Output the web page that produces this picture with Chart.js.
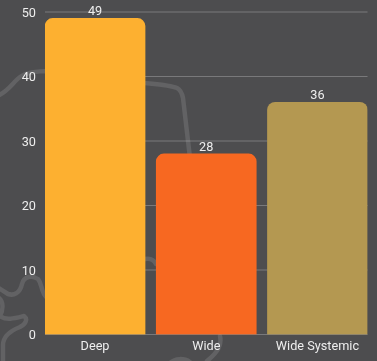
<!DOCTYPE html>
<html>
<head>
<meta charset="utf-8">
<title>Deep / Wide</title>
<script src="https://cdn.jsdelivr.net/npm/chart.js@4"></script>
<style>
    html, body { margin: 0; padding: 0; background: #4d4d4f; overflow: hidden; }
    #wrap { position: relative; width: 377px; height: 361px; }
    #wrap svg, #wrap canvas { position: absolute; left: 0; top: 0; }
</style>
</head>
<body>
<div id="wrap">
    <!-- faint outline running behind the plot -->
    <svg width="377" height="361" fill="none" stroke="#626264" stroke-width="4.5" stroke-linecap="round" stroke-linejoin="round">
        <path d="M-3 96 C8 92 13 82 20 77 C27 72 38 71 50 71 L145 83 C155 84 170 85 177 88 C181 90 182 93 183 98 L190 158"/>
        <path d="M47 298 C40 291 43 285 38 279 C32 275 24 276 22 284 C20 293 14 296 8 294 L-3 287"/>
        <path d="M-1 298 C4 302 3 310 0 316 C6 321 16 318 24 316 C28 319 26 324 20 327 C10 331 3 336 3 345 L3 363"/>
        <path d="M145 259 C150 258 154 260 156 264"/>
        <path d="M220 336 C222 345 218 352 207 361"/>
        <path d="M170 363 C175 358 184 358 190 362"/>
    </svg>
    <canvas id="chart" width="377" height="361"></canvas>
</div>
<script>
var categories = ['Deep', 'Wide', 'Wide Systemic'];
var series_values = [49, 28, 36];
var bar_colors = ['#fdb030', '#f76821', '#b49851'];
var y_ticks = [0, 10, 20, 30, 40, 50];

var text_color = '#eeeeee';
var text_font = { family: 'Roboto', size: 12.7 };

// horizontal rules, left unsnapped so they fall on half pixels where the scale puts them
var value_rules = {
    id: 'value_rules',
    beforeDatasetsDraw: function (chart) {
        var ctx = chart.ctx;
        var area = chart.chartArea;
        ctx.save();
        ctx.strokeStyle = 'rgba(255, 255, 255, 0.25)';
        ctx.lineWidth = 1;
        y_ticks.forEach(function (v) {
            var y = chart.scales.y.getPixelForValue(v);
            ctx.beginPath();
            ctx.moveTo(area.left, y);
            ctx.lineTo(area.right, y);
            ctx.stroke();
        });
        ctx.restore();
    }
};

// value above each bar
var bar_value_labels = {
    id: 'bar_value_labels',
    afterDatasetsDraw: function (chart) {
        var ctx = chart.ctx;
        ctx.save();
        ctx.fillStyle = text_color;
        ctx.font = '12.7px Roboto';
        ctx.textAlign = 'center';
        ctx.textBaseline = 'bottom';
        chart.getDatasetMeta(0).data.forEach(function (bar, i) {
            ctx.fillText(series_values[i], bar.x, bar.y);
        });
        ctx.restore();
    }
};

function no_axis_padding(axis) {
    axis.paddingTop = 0;
    axis.paddingBottom = 0;
    axis.paddingLeft = 0;
    axis.paddingRight = 0;
}

new Chart(document.getElementById('chart'), {
    type: 'bar',
    data: {
        datasets: [{
            data: series_values.map(function (v, i) { return { x: i, y: v }; }),
            backgroundColor: bar_colors,
            borderRadius: { topLeft: 8, topRight: 8 },
            borderSkipped: false,
            barThickness: 100
        }]
    },
    options: {
        responsive: false,
        animation: false,
        layout: { padding: { top: 12, right: 9.5, bottom: 0, left: 0 } },
        plugins: {
            legend: { display: false },
            tooltip: { enabled: false }
        },
        scales: {
            // linear so the outer bars can sit flush with the ends of the rules
            x: {
                type: 'linear',
                offset: false,
                bounds: 'data',
                min: -0.45,
                max: 2.45,
                afterBuildTicks: function (axis) {
                    axis.ticks = categories.map(function (c, i) { return { value: i }; });
                },
                afterFit: function (axis) {
                    axis.height = 26.5;
                    no_axis_padding(axis);
                },
                grid: { display: false, drawTicks: false },
                border: { display: false },
                ticks: {
                    color: text_color,
                    font: text_font,
                    padding: 5,
                    maxRotation: 0,
                    autoSkip: false,
                    callback: function (v) { return categories[v]; }
                }
            },
            y: {
                min: 0,
                max: 50,
                afterBuildTicks: function (axis) {
                    axis.ticks = y_ticks.map(function (v) { return { value: v }; });
                },
                afterFit: function (axis) {
                    axis.width = 45;
                    no_axis_padding(axis);
                },
                grid: { display: false, drawTicks: false },
                border: { display: false },
                ticks: { color: text_color, font: text_font, padding: 9, labelOffset: 1.5 }
            }
        }
    },
    plugins: [value_rules, bar_value_labels]
});
</script>
</body>
</html>
